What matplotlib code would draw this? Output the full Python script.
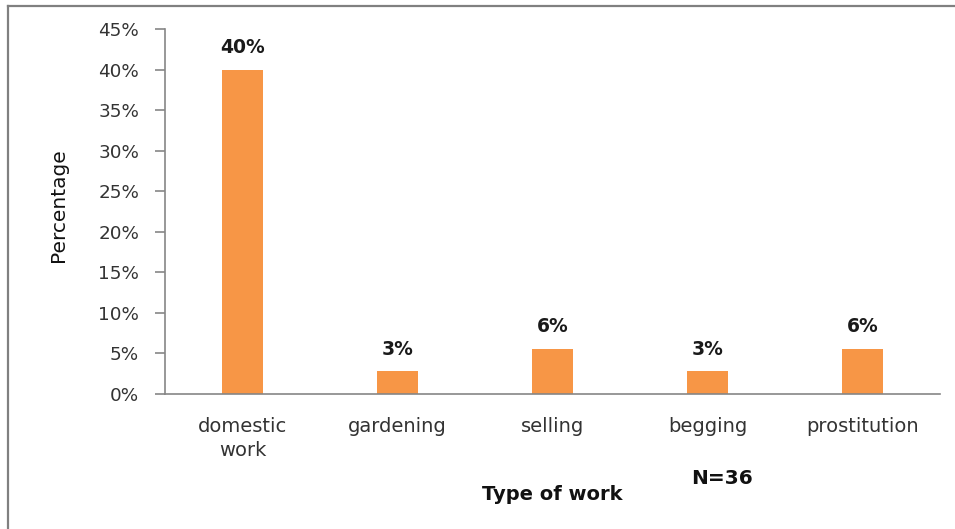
import numpy as np
import matplotlib.pyplot as plt
from matplotlib.lines import Line2D
from matplotlib.ticker import PercentFormatter

categories = ["domestic\nwork", "gardening", "selling", "begging", "prostitution"]
percentages = [40.0, 2.78, 5.56, 2.78, 5.56]
y_ticks = [0, 5, 10, 15, 20, 25, 30, 35, 40, 45]
sample_note = "N=36"

bar_color = "#F79646"
axis_gray = "#868686"

fig = plt.figure(figsize=(9.55, 5.29), dpi=100)
ax = fig.add_axes([0.1728, 0.2552, 0.8115, 0.690])

x = np.arange(len(categories))
ax.bar(x, percentages, width=0.26, color=bar_color, zorder=2)

for xi, val in zip(x, percentages):
    ax.annotate(f"{val:.0f}%", (xi, val), xytext=(0, 9), textcoords="offset points",
                ha="center", va="bottom", fontsize=13.5, fontweight="bold", color="#1a1a1a")

ax.set_xlim(-0.5, len(categories) - 0.5)
ax.set_ylim(0, 45)
ax.set_yticks(y_ticks)
ax.yaxis.set_major_formatter(PercentFormatter(decimals=0))
ax.set_xticks(x)
ax.set_xticklabels(categories, linespacing=1.35)

for side in ["top", "right"]:
    ax.spines[side].set_visible(False)
for side in ["left", "bottom"]:
    ax.spines[side].set_color(axis_gray)
    ax.spines[side].set_linewidth(1.2)

ax.tick_params(axis="y", length=7.2, width=1.2, color=axis_gray, pad=11.5,
               labelsize=13.2, labelcolor="#333333")
ax.tick_params(axis="x", length=0, pad=16.5, labelsize=14, labelcolor="#333333")
for lbl in ax.get_xticklabels():
    lbl.set_va("top")

fig.text(59 / 955, 1 - 205 / 529, "Percentage", rotation=90, ha="center", va="center",
         fontsize=14.5, color="#111111")
fig.text(552 / 955, 1 - 494 / 529, "Type of work", ha="center", va="center",
         fontsize=14, fontweight="bold", color="#111111")
fig.text(722 / 955, 1 - 479 / 529, sample_note, ha="center", va="center",
         fontsize=14.5, fontweight="bold", color="#111111")

# thin frame along the left and top edges
fig.add_artist(Line2D([8 / 955, 8 / 955], [0, 1 - 6 / 529], transform=fig.transFigure,
                      color="#808080", linewidth=1.6))
fig.add_artist(Line2D([8 / 955, 954 / 955], [1 - 6 / 529, 1 - 6 / 529], transform=fig.transFigure,
                      color="#808080", linewidth=1.6))

fig.savefig("out.png", dpi=100)
